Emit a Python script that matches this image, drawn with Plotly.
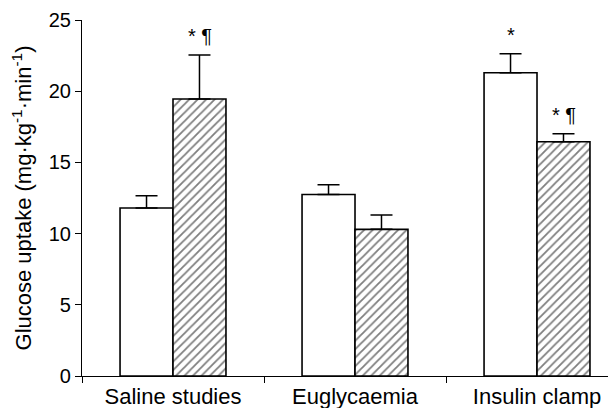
import plotly.graph_objects as go

categories = ["Saline studies", "Euglycaemia", "Insulin clamp"]
control_values = [11.8, 12.75, 21.3]
control_err = [0.85, 0.68, 1.33]
treated_values = [19.45, 10.3, 16.45]
treated_err = [3.1, 1.0, 0.56]
control_marks = ["", "", "*"]
treated_marks = ["* ¶", "", "* ¶"]
y_ticks = [0, 5, 10, 15, 20, 25]

FONT = "Liberation Sans, Arial, sans-serif"

fig = go.Figure()
fig.add_trace(go.Bar(
    x=categories, y=control_values, name="control",
    marker=dict(color="white", line=dict(color="black", width=1.6)),
    error_y=dict(type="data", array=control_err, arrayminus=[0]*3, symmetric=False,
                 color="black", thickness=1.5, width=11),
))
fig.add_trace(go.Bar(
    x=categories, y=treated_values, name="treated",
    marker=dict(color="white", line=dict(color="black", width=1.6),
                pattern=dict(shape="/", fgcolor="black", bgcolor="white",
                             size=6, solidity=0.3)),
    error_y=dict(type="data", array=treated_err, arrayminus=[0]*3, symmetric=False,
                 color="black", thickness=1.5, width=11),
))

for i, cat in enumerate(categories):
    for marks, vals, errs, shift in ((control_marks, control_values, control_err, -26.5),
                                     (treated_marks, treated_values, treated_err, 26.5)):
        if marks[i]:
            fig.add_annotation(x=cat, y=vals[i] + errs[i], text=marks[i],
                               xref="x", yref="y", showarrow=False,
                               xshift=shift, yshift=6, yanchor="bottom",
                               font=dict(family=FONT, size=20, color="black"))

# the page adds an 8px body margin, so the figure is sized to fit the 616x408 window
fig.update_layout(
    width=608, height=400,
    margin=dict(l=74, r=0, t=12, b=32),
    paper_bgcolor="white", plot_bgcolor="white",
    barmode="group", bargap=0.418, bargroupgap=0,
    showlegend=False,
    font=dict(family=FONT, color="black"),
)
fig.update_xaxes(
    range=[-0.5, 2.434], showline=True, linecolor="black", linewidth=1.2,
    ticks="outside", tickson="boundaries", ticklen=6, tickcolor="black", tickwidth=1,
    tickfont=dict(family=FONT, size=22, color="black"), showgrid=False, zeroline=False,
    automargin=False,
)
fig.update_yaxes(
    range=[0, 25], tickvals=y_ticks, showline=True, linecolor="black", linewidth=1.2,
    ticks="outside", ticklen=6, tickcolor="black", tickwidth=1,
    tickfont=dict(family=FONT, size=20, color="black"), showgrid=False, zeroline=False,
    automargin=False,
    title=dict(text="Glucose uptake (mg·kg<sup>-1</sup>·min<sup>-1</sup>)",
               font=dict(family=FONT, size=22, color="black"), standoff=12),
)

fig.write_html("out.html")
